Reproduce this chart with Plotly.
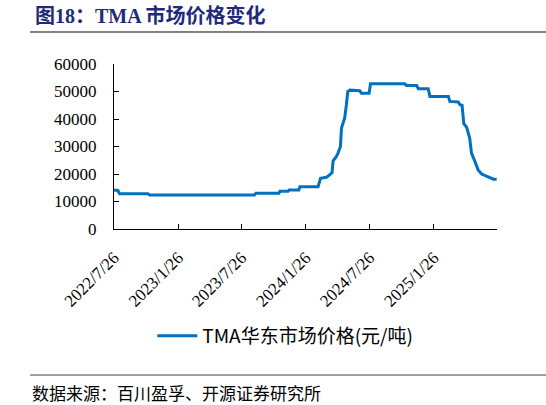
import plotly.graph_objects as go

dates = [
    "2022-07-26", "2022-08-06", "2022-08-11", "2022-10-31", "2022-11-05",
    "2023-09-01", "2023-09-05", "2023-11-10", "2023-11-13", "2023-12-06",
    "2023-12-09", "2024-01-06", "2024-01-09", "2024-03-01", "2024-03-08",
    "2024-03-25", "2024-04-03", "2024-04-10", "2024-04-13", "2024-04-22",
    "2024-04-27", "2024-05-04", "2024-05-07", "2024-05-16", "2024-05-21",
    "2024-05-25", "2024-05-31", "2024-06-28", "2024-07-03", "2024-07-25",
    "2024-07-29", "2024-11-04", "2024-11-09", "2024-12-08", "2024-12-13",
    "2025-01-10", "2025-01-15", "2025-03-09", "2025-03-13", "2025-04-06",
    "2025-04-11", "2025-04-17", "2025-04-22", "2025-04-30", "2025-05-09",
    "2025-05-14", "2025-05-24", "2025-06-02", "2025-06-12", "2025-06-26",
    "2025-07-06", "2025-07-16", "2025-07-25",
]
prices = [
    14200, 14000, 12800, 12800, 12400,
    12400, 13000, 13000, 13700, 13700,
    14200, 14200, 15400, 15400, 18400,
    18800, 19700, 20500, 24800, 26300,
    27600, 30000, 36700, 40300, 45200,
    50000, 50500, 50300, 49400, 49400,
    52800, 52800, 52200, 52200, 51000,
    51000, 48200, 48200, 46400, 46200,
    45200, 45000, 38300, 37000, 33000,
    27600, 24500, 21500, 20000, 19300,
    18800, 18100, 18100,
]

tick_vals = ["2022-07-26", "2023-01-26", "2023-07-26", "2024-01-26", "2024-07-26", "2025-01-26"]
tick_text = ["2022/7/26", "2023/1/26", "2023/7/26", "2024/1/26", "2024/7/26", "2025/1/26"]
y_ticks = [0, 10000, 20000, 30000, 40000, 50000, 60000]
y_tick_text = ["0", "10000", "20000", "30000", "40000", "50000", "60000"]

series_name = "TMA华东市场价格(元/吨)"
title_text = "图18：TMA 市场价格变化"
source_text = "数据来源：百川盈孚、开源证券研究所"

fig = go.Figure()
fig.add_trace(go.Scatter(
    x=dates, y=prices, mode="lines", name=series_name,
    line=dict(color="#0070C0", width=3),
))

serif = "Liberation Serif, Times New Roman, serif"
cjk = "Noto Sans CJK SC, sans-serif"

fig.update_layout(
    width=546, height=405,
    margin=dict(l=114, r=49, t=64, b=176),
    paper_bgcolor="white", plot_bgcolor="white",
    showlegend=True,
    legend=dict(orientation="h", x=0.1, xanchor="left", y=-0.648, yanchor="middle",
                font=dict(family=cjk, size=19, color="black"), itemwidth=40),
    xaxis=dict(
        type="date", range=["2022-07-26", "2025-07-26"],
        tickvals=tick_vals, ticktext=tick_text, tickangle=-45,
        tickfont=dict(family=serif, size=17, color="black"),
        showgrid=False, showline=True, linecolor="black", linewidth=1,
        ticks="inside", ticklen=5, tickcolor="black", zeroline=False,
        ticklabelstandoff=11,
    ),
    yaxis=dict(
        range=[0, 60000], tickvals=y_ticks, ticktext=y_tick_text,
        tickfont=dict(family=serif, size=17, color="black"),
        showgrid=False, showline=True, linecolor="black", linewidth=1,
        ticks="inside", ticklen=5, tickcolor="black", zeroline=False,
        ticklabelstandoff=13,
    ),
    shapes=[
        dict(type="line", xref="paper", yref="paper", x0=-0.219, x1=1.128,
             y0=1.194, y1=1.194, line=dict(color="#808080", width=2)),
        dict(type="line", xref="paper", yref="paper", x0=-0.219, x1=1.128,
             y0=-0.885, y1=-0.885, line=dict(color="#404040", width=1)),
    ],
    annotations=[
        dict(text="<b>" + title_text + "</b>", xref="paper", yref="paper",
             x=-0.2115, y=1.291, xanchor="left", yanchor="middle", showarrow=False,
             font=dict(family="Liberation Serif, Noto Sans CJK SC", size=20, color="#1F2A7A")),
        dict(text=source_text, xref="paper", yref="paper",
             x=-0.219, y=-0.988, xanchor="left", yanchor="middle", showarrow=False,
             font=dict(family=cjk, size=17, color="black")),
    ],
)

fig.write_html("out.html", config={"displayModeBar": False},
               post_script="document.body.style.margin='0px';")
